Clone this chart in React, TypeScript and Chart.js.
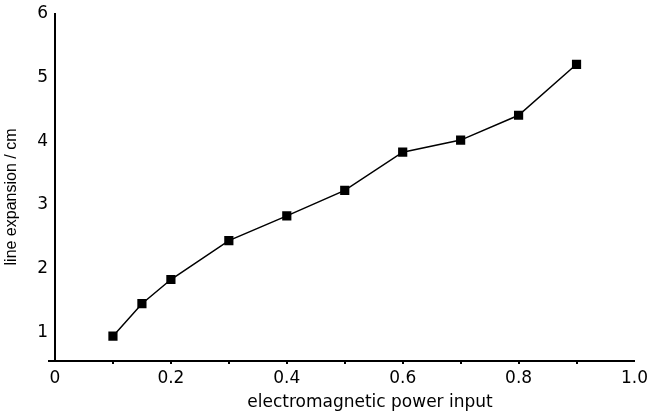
import React, { useEffect, useRef } from "react";
import { Chart, registerables } from "chart.js";

Chart.register(...registerables);

const powerInput = [0.1, 0.15, 0.2, 0.3, 0.4, 0.5, 0.6, 0.7, 0.8, 0.9];
const lineExpansion = [0.94, 1.45, 1.83, 2.44, 2.83, 3.23, 3.83, 4.02, 4.41, 5.21];
const xTickLabels = ["0", "0.2", "0.4", "0.6", "0.8", "1.0"];
const yTickLabels = ["1", "2", "3", "4", "5", "6"];
const xTitle = "electromagnetic power input";
const yTitle = "line expansion / cm";

const FONT = "'DejaVu Sans', 'Liberation Sans', sans-serif";
const NARROW = "'Liberation Sans Narrow', 'Liberation Sans', sans-serif";
const Y_MIN = 0.55;

export default function App() {
  const ref = useRef<HTMLCanvasElement | null>(null);

  useEffect(() => {
    const canvas = ref.current;
    if (!canvas) return;
    const titles = {
      id: "titles",
      afterDraw(chart: any) {
        const ctx = chart.ctx;
        ctx.save();
        ctx.fillStyle = "#000";
        ctx.textAlign = "center";
        ctx.textBaseline = "middle";
        ctx.font = `17px ${FONT}`;
        ctx.fillText(xTitle, 370, 403);
        ctx.translate(12, 197);
        ctx.rotate(-Math.PI / 2);
        ctx.font = `16px ${NARROW}`;
        ctx.fillText(yTitle, 0, 0);
        ctx.restore();
      },
    };
    const chart = new Chart(canvas, {
      type: "line",
      data: {
        datasets: [
          {
            data: powerInput.map((x, i) => ({ x, y: lineExpansion[i] })),
            borderColor: "#000",
            backgroundColor: "#000",
            borderWidth: 1.5,
            pointStyle: "rect",
            pointRadius: 6.5,
            pointBorderWidth: 0,
            tension: 0,
          },
        ],
      },
      options: {
        responsive: false,
        animation: false,
        layout: { padding: { top: 14, right: 16, left: 0, bottom: 0 } },
        plugins: { legend: { display: false }, tooltip: { enabled: false } },
        scales: {
          x: {
            type: "linear",
            min: 0,
            max: 1,
            afterFit: (s: any) => {
              s.height = 54;
            },
            afterBuildTicks: (s: any) => {
              s.ticks = Array.from({ length: 11 }, (_, i) => ({ value: i / 10 }));
            },
            border: { display: true, color: "#000", width: 2 },
            grid: {
              drawOnChartArea: false,
              tickLength: 3,
              color: (c: any) => (c.tick && Math.round(c.tick.value * 10) > 0 && Math.round(c.tick.value * 10) < 10 ? "#000" : "rgba(0,0,0,0)"),
              lineWidth: 2,
            },
            ticks: {
              autoSkip: false,
              maxRotation: 0,
              padding: 4,
              color: "#000",
              font: { family: FONT, size: 17 },
              callback: (v: any) => {
                const k = Math.round(Number(v) * 10);
                return k % 2 === 0 ? xTickLabels[k / 2] : "";
              },
            },
          },
          y: {
            type: "linear",
            min: Y_MIN,
            max: 6,
            afterFit: (s: any) => {
              s.width = 55;
            },
            afterBuildTicks: (s: any) => {
              s.ticks = [{ value: Y_MIN }, ...yTickLabels.map((t) => ({ value: Number(t) }))];
            },
            border: { display: true, color: "#000", width: 2 },
            grid: {
              drawOnChartArea: false,
              tickLength: 7,
              color: (c: any) => (c.tick && c.tick.value === Y_MIN ? "#000" : "rgba(0,0,0,0)"),
              lineWidth: 2,
            },
            ticks: {
              padding: 0,
              color: "#000",
              font: { family: FONT, size: 17 },
              callback: (v: any) => (Number(v) === Y_MIN ? "" : String(v)),
            },
          },
        },
      },
      plugins: [titles],
    } as any);
    return () => chart.destroy();
  }, []);

  return (
    <div style={{ position: "fixed", left: 0, top: 0, width: 652, height: 415, background: "#fff" }}>
      <canvas ref={ref} width={652} height={415} />
    </div>
  );
}
